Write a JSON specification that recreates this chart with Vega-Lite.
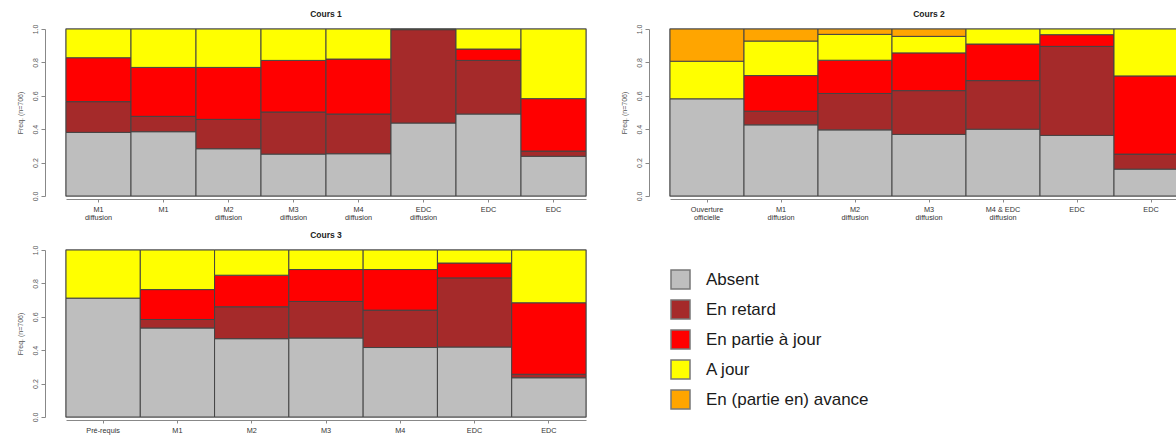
{
  "$schema": "https://vega.github.io/schema/vega-lite/v6.json",
  "padding": {"left": 15, "top": 8, "right": -12, "bottom": 0},
  "config": {
    "font": "Liberation Sans",
    "view": {"stroke": "#999", "strokeWidth": 1.5},
    "title": {"fontSize": 8.5, "fontWeight": "bold", "color": "#222", "offset": 6, "anchor": "middle"},
    "axisY": {"offset": 21, "domainColor": "#888", "tickColor": "#888", "tickSize": 4, "labelAngle": -90, "labelAlign": "center", "labelBaseline": "bottom", "labelFontSize": 7, "labelColor": "#555", "labelPadding": 3, "titleFontSize": 7, "titleFontWeight": "normal", "titleColor": "#555", "titlePadding": 8, "grid": false},
    "axisX": {"offset": 3, "domainColor": "#888", "tickColor": "#888", "tickSize": 3, "labelAngle": 0, "labelFontSize": 7.3, "labelColor": "#333", "labelLineHeight": 8.5, "labelPadding": 3},
    "legend": {"padding": 0, "symbolType": "square", "symbolSize": 361, "symbolStrokeColor": "#777", "symbolStrokeWidth": 1.5, "labelFontSize": 17, "labelColor": "#1a1a1a", "labelOffset": 15, "labelLimit": 400, "rowPadding": 5, "labelFont": "Liberation Sans"}
  },
  "datasets": {
    "bars": [
      {"c": "Cours 1", "i": 1, "barre": "M1|diffusion", "statut": "Absent", "k": 1, "freq": 0.381},
      {"c": "Cours 1", "i": 1, "barre": "M1|diffusion", "statut": "En retard", "k": 2, "freq": 0.184},
      {"c": "Cours 1", "i": 1, "barre": "M1|diffusion", "statut": "En partie à jour", "k": 3, "freq": 0.263},
      {"c": "Cours 1", "i": 1, "barre": "M1|diffusion", "statut": "A jour", "k": 4, "freq": 0.172},
      {"c": "Cours 1", "i": 2, "barre": "M1", "statut": "Absent", "k": 1, "freq": 0.385},
      {"c": "Cours 1", "i": 2, "barre": "M1", "statut": "En retard", "k": 2, "freq": 0.092},
      {"c": "Cours 1", "i": 2, "barre": "M1", "statut": "En partie à jour", "k": 3, "freq": 0.293},
      {"c": "Cours 1", "i": 2, "barre": "M1", "statut": "A jour", "k": 4, "freq": 0.230},
      {"c": "Cours 1", "i": 3, "barre": "M2|diffusion", "statut": "Absent", "k": 1, "freq": 0.283},
      {"c": "Cours 1", "i": 3, "barre": "M2|diffusion", "statut": "En retard", "k": 2, "freq": 0.176},
      {"c": "Cours 1", "i": 3, "barre": "M2|diffusion", "statut": "En partie à jour", "k": 3, "freq": 0.311},
      {"c": "Cours 1", "i": 3, "barre": "M2|diffusion", "statut": "A jour", "k": 4, "freq": 0.230},
      {"c": "Cours 1", "i": 4, "barre": "M3|diffusion", "statut": "Absent", "k": 1, "freq": 0.251},
      {"c": "Cours 1", "i": 4, "barre": "M3|diffusion", "statut": "En retard", "k": 2, "freq": 0.252},
      {"c": "Cours 1", "i": 4, "barre": "M3|diffusion", "statut": "En partie à jour", "k": 3, "freq": 0.309},
      {"c": "Cours 1", "i": 4, "barre": "M3|diffusion", "statut": "A jour", "k": 4, "freq": 0.188},
      {"c": "Cours 1", "i": 5, "barre": "M4|diffusion", "statut": "Absent", "k": 1, "freq": 0.253},
      {"c": "Cours 1", "i": 5, "barre": "M4|diffusion", "statut": "En retard", "k": 2, "freq": 0.238},
      {"c": "Cours 1", "i": 5, "barre": "M4|diffusion", "statut": "En partie à jour", "k": 3, "freq": 0.329},
      {"c": "Cours 1", "i": 5, "barre": "M4|diffusion", "statut": "A jour", "k": 4, "freq": 0.180},
      {"c": "Cours 1", "i": 6, "barre": "EDC|diffusion", "statut": "Absent", "k": 1, "freq": 0.437},
      {"c": "Cours 1", "i": 6, "barre": "EDC|diffusion", "statut": "En retard", "k": 2, "freq": 0.559},
      {"c": "Cours 1", "i": 6, "barre": "EDC|diffusion", "statut": "En partie à jour", "k": 3, "freq": 0.002},
      {"c": "Cours 1", "i": 6, "barre": "EDC|diffusion", "statut": "A jour", "k": 4, "freq": 0.002},
      {"c": "Cours 1", "i": 7, "barre": "EDC", "statut": "Absent", "k": 1, "freq": 0.491},
      {"c": "Cours 1", "i": 7, "barre": "EDC", "statut": "En retard", "k": 2, "freq": 0.321},
      {"c": "Cours 1", "i": 7, "barre": "EDC", "statut": "En partie à jour", "k": 3, "freq": 0.068},
      {"c": "Cours 1", "i": 7, "barre": "EDC", "statut": "A jour", "k": 4, "freq": 0.120},
      {"c": "Cours 1", "i": 8, "barre": "EDC ", "statut": "Absent", "k": 1, "freq": 0.238},
      {"c": "Cours 1", "i": 8, "barre": "EDC ", "statut": "En retard", "k": 2, "freq": 0.031},
      {"c": "Cours 1", "i": 8, "barre": "EDC ", "statut": "En partie à jour", "k": 3, "freq": 0.314},
      {"c": "Cours 1", "i": 8, "barre": "EDC ", "statut": "A jour", "k": 4, "freq": 0.417},

      {"c": "Cours 2", "i": 1, "barre": "Ouverture|officielle", "statut": "Absent", "k": 1, "freq": 0.582},
      {"c": "Cours 2", "i": 1, "barre": "Ouverture|officielle", "statut": "A jour", "k": 4, "freq": 0.225},
      {"c": "Cours 2", "i": 1, "barre": "Ouverture|officielle", "statut": "En (partie en) avance", "k": 5, "freq": 0.193},
      {"c": "Cours 2", "i": 2, "barre": "M1|diffusion", "statut": "Absent", "k": 1, "freq": 0.426},
      {"c": "Cours 2", "i": 2, "barre": "M1|diffusion", "statut": "En retard", "k": 2, "freq": 0.082},
      {"c": "Cours 2", "i": 2, "barre": "M1|diffusion", "statut": "En partie à jour", "k": 3, "freq": 0.213},
      {"c": "Cours 2", "i": 2, "barre": "M1|diffusion", "statut": "A jour", "k": 4, "freq": 0.207},
      {"c": "Cours 2", "i": 2, "barre": "M1|diffusion", "statut": "En (partie en) avance", "k": 5, "freq": 0.072},
      {"c": "Cours 2", "i": 3, "barre": "M2|diffusion", "statut": "Absent", "k": 1, "freq": 0.396},
      {"c": "Cours 2", "i": 3, "barre": "M2|diffusion", "statut": "En retard", "k": 2, "freq": 0.218},
      {"c": "Cours 2", "i": 3, "barre": "M2|diffusion", "statut": "En partie à jour", "k": 3, "freq": 0.199},
      {"c": "Cours 2", "i": 3, "barre": "M2|diffusion", "statut": "A jour", "k": 4, "freq": 0.155},
      {"c": "Cours 2", "i": 3, "barre": "M2|diffusion", "statut": "En (partie en) avance", "k": 5, "freq": 0.032},
      {"c": "Cours 2", "i": 4, "barre": "M3|diffusion", "statut": "Absent", "k": 1, "freq": 0.369},
      {"c": "Cours 2", "i": 4, "barre": "M3|diffusion", "statut": "En retard", "k": 2, "freq": 0.262},
      {"c": "Cours 2", "i": 4, "barre": "M3|diffusion", "statut": "En partie à jour", "k": 3, "freq": 0.226},
      {"c": "Cours 2", "i": 4, "barre": "M3|diffusion", "statut": "A jour", "k": 4, "freq": 0.099},
      {"c": "Cours 2", "i": 4, "barre": "M3|diffusion", "statut": "En (partie en) avance", "k": 5, "freq": 0.044},
      {"c": "Cours 2", "i": 5, "barre": "M4 & EDC|diffusion", "statut": "Absent", "k": 1, "freq": 0.400},
      {"c": "Cours 2", "i": 5, "barre": "M4 & EDC|diffusion", "statut": "En retard", "k": 2, "freq": 0.291},
      {"c": "Cours 2", "i": 5, "barre": "M4 & EDC|diffusion", "statut": "En partie à jour", "k": 3, "freq": 0.219},
      {"c": "Cours 2", "i": 5, "barre": "M4 & EDC|diffusion", "statut": "A jour", "k": 4, "freq": 0.090},
      {"c": "Cours 2", "i": 6, "barre": "EDC", "statut": "Absent", "k": 1, "freq": 0.363},
      {"c": "Cours 2", "i": 6, "barre": "EDC", "statut": "En retard", "k": 2, "freq": 0.533},
      {"c": "Cours 2", "i": 6, "barre": "EDC", "statut": "En partie à jour", "k": 3, "freq": 0.070},
      {"c": "Cours 2", "i": 6, "barre": "EDC", "statut": "A jour", "k": 4, "freq": 0.034},
      {"c": "Cours 2", "i": 7, "barre": "EDC ", "statut": "Absent", "k": 1, "freq": 0.161},
      {"c": "Cours 2", "i": 7, "barre": "EDC ", "statut": "En retard", "k": 2, "freq": 0.090},
      {"c": "Cours 2", "i": 7, "barre": "EDC ", "statut": "En partie à jour", "k": 3, "freq": 0.468},
      {"c": "Cours 2", "i": 7, "barre": "EDC ", "statut": "A jour", "k": 4, "freq": 0.281},

      {"c": "Cours 3", "i": 1, "barre": "Pré-requis", "statut": "Absent", "k": 1, "freq": 0.712},
      {"c": "Cours 3", "i": 1, "barre": "Pré-requis", "statut": "A jour", "k": 4, "freq": 0.288},
      {"c": "Cours 3", "i": 2, "barre": "M1", "statut": "Absent", "k": 1, "freq": 0.533},
      {"c": "Cours 3", "i": 2, "barre": "M1", "statut": "En retard", "k": 2, "freq": 0.051},
      {"c": "Cours 3", "i": 2, "barre": "M1", "statut": "En partie à jour", "k": 3, "freq": 0.179},
      {"c": "Cours 3", "i": 2, "barre": "M1", "statut": "A jour", "k": 4, "freq": 0.237},
      {"c": "Cours 3", "i": 3, "barre": "M2", "statut": "Absent", "k": 1, "freq": 0.469},
      {"c": "Cours 3", "i": 3, "barre": "M2", "statut": "En retard", "k": 2, "freq": 0.191},
      {"c": "Cours 3", "i": 3, "barre": "M2", "statut": "En partie à jour", "k": 3, "freq": 0.189},
      {"c": "Cours 3", "i": 3, "barre": "M2", "statut": "A jour", "k": 4, "freq": 0.151},
      {"c": "Cours 3", "i": 4, "barre": "M3", "statut": "Absent", "k": 1, "freq": 0.473},
      {"c": "Cours 3", "i": 4, "barre": "M3", "statut": "En retard", "k": 2, "freq": 0.219},
      {"c": "Cours 3", "i": 4, "barre": "M3", "statut": "En partie à jour", "k": 3, "freq": 0.191},
      {"c": "Cours 3", "i": 4, "barre": "M3", "statut": "A jour", "k": 4, "freq": 0.117},
      {"c": "Cours 3", "i": 5, "barre": "M4", "statut": "Absent", "k": 1, "freq": 0.416},
      {"c": "Cours 3", "i": 5, "barre": "M4", "statut": "En retard", "k": 2, "freq": 0.224},
      {"c": "Cours 3", "i": 5, "barre": "M4", "statut": "En partie à jour", "k": 3, "freq": 0.243},
      {"c": "Cours 3", "i": 5, "barre": "M4", "statut": "A jour", "k": 4, "freq": 0.117},
      {"c": "Cours 3", "i": 6, "barre": "EDC", "statut": "Absent", "k": 1, "freq": 0.419},
      {"c": "Cours 3", "i": 6, "barre": "EDC", "statut": "En retard", "k": 2, "freq": 0.414},
      {"c": "Cours 3", "i": 6, "barre": "EDC", "statut": "En partie à jour", "k": 3, "freq": 0.089},
      {"c": "Cours 3", "i": 6, "barre": "EDC", "statut": "A jour", "k": 4, "freq": 0.078},
      {"c": "Cours 3", "i": 7, "barre": "EDC ", "statut": "Absent", "k": 1, "freq": 0.235},
      {"c": "Cours 3", "i": 7, "barre": "EDC ", "statut": "En retard", "k": 2, "freq": 0.021},
      {"c": "Cours 3", "i": 7, "barre": "EDC ", "statut": "En partie à jour", "k": 3, "freq": 0.428},
      {"c": "Cours 3", "i": 7, "barre": "EDC ", "statut": "A jour", "k": 4, "freq": 0.316}
    ]
  },
  "hconcat": [
    {
      "spacing": 7,
      "vconcat": [
        {
          "title": "Cours 1",
          "width": 520,
          "height": 167,
          "data": {"name": "bars"},
          "transform": [{"filter": "datum.c == 'Cours 1'"}],
          "mark": {"type": "bar", "stroke": "#444", "strokeWidth": 1},
          "encoding": {
            "x": {"field": "barre", "type": "ordinal", "sort": {"field": "i", "op": "min"}, "scale": {"paddingInner": 0, "paddingOuter": 0}, "axis": {"title": null, "labelExpr": "split(datum.value, '|')"}},
            "y": {"field": "freq", "type": "quantitative", "stack": "zero", "scale": {"domain": [0, 1], "nice": false}, "axis": {"title": "Freq. (n=706)", "values": [0, 0.2, 0.4, 0.6, 0.8, 1], "format": ".1f"}},
            "color": {"field": "statut", "type": "nominal", "scale": {"domain": ["Absent", "En retard", "En partie à jour", "A jour", "En (partie en) avance"], "range": ["#BEBEBE", "#A52A2A", "#FF0000", "#FFFF00", "#FFA500"]}, "legend": {"title": null, "orient": "none", "legendX": 604, "legendY": 240}},
            "order": {"field": "k", "type": "quantitative"}
          }
        },
        {
          "title": "Cours 3",
          "width": 520,
          "height": 167,
          "data": {"name": "bars"},
          "transform": [{"filter": "datum.c == 'Cours 3'"}],
          "mark": {"type": "bar", "stroke": "#444", "strokeWidth": 1},
          "encoding": {
            "x": {"field": "barre", "type": "ordinal", "sort": {"field": "i", "op": "min"}, "scale": {"paddingInner": 0, "paddingOuter": 0}, "axis": {"title": null, "labelExpr": "split(datum.value, '|')"}},
            "y": {"field": "freq", "type": "quantitative", "stack": "zero", "scale": {"domain": [0, 1], "nice": false}, "axis": {"title": "Freq. (n=706)", "values": [0, 0.2, 0.4, 0.6, 0.8, 1], "format": ".1f"}},
            "color": {"field": "statut", "type": "nominal", "scale": {"domain": ["Absent", "En retard", "En partie à jour", "A jour", "En (partie en) avance"], "range": ["#BEBEBE", "#A52A2A", "#FF0000", "#FFFF00", "#FFA500"]}, "legend": {"title": null, "orient": "none", "legendX": 604, "legendY": 240}},
            "order": {"field": "k", "type": "quantitative"}
          }
        }
      ]
    },
    {
      "title": "Cours 2",
      "width": 518,
      "height": 167,
      "data": {"name": "bars"},
      "transform": [{"filter": "datum.c == 'Cours 2'"}],
      "mark": {"type": "bar", "stroke": "#444", "strokeWidth": 1},
      "encoding": {
        "x": {"field": "barre", "type": "ordinal", "sort": {"field": "i", "op": "min"}, "scale": {"paddingInner": 0, "paddingOuter": 0}, "axis": {"title": null, "labelExpr": "split(datum.value, '|')"}},
        "y": {"field": "freq", "type": "quantitative", "stack": "zero", "scale": {"domain": [0, 1], "nice": false}, "axis": {"title": "Freq. (n=706)", "values": [0, 0.2, 0.4, 0.6, 0.8, 1], "format": ".1f"}},
        "color": {"field": "statut", "type": "nominal", "scale": {"domain": ["Absent", "En retard", "En partie à jour", "A jour", "En (partie en) avance"], "range": ["#BEBEBE", "#A52A2A", "#FF0000", "#FFFF00", "#FFA500"]}, "legend": {"title": null, "orient": "none", "legendX": 604, "legendY": 240}},
        "order": {"field": "k", "type": "quantitative"}
      }
    }
  ],
  "spacing": 31,
  "resolve": {"scale": {"color": "shared"}}
}
